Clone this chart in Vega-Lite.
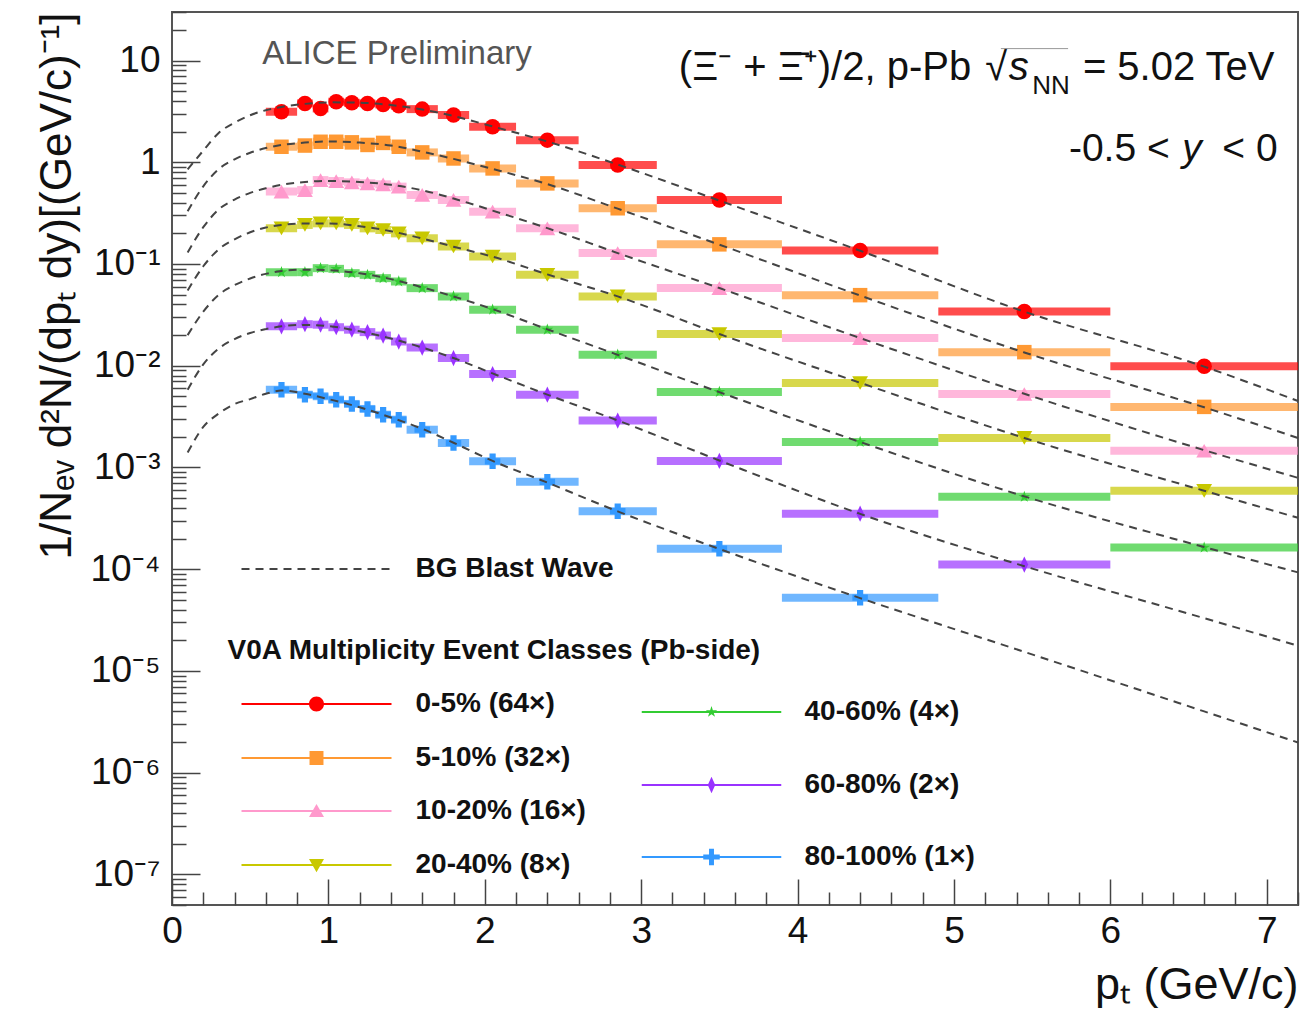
{
  "$schema": "https://vega.github.io/schema/vega-lite/v6.json",
  "width": 1126,
  "height": 893,
  "autosize": {"type": "none"},
  "padding": {"left": 172, "top": 12, "right": 14, "bottom": 112},
  "background": "white",
  "config": {
    "view": {"stroke": "#555", "strokeWidth": 2},
    "font": "Liberation Sans",
    "axis": {"labelFont": "Liberation Sans", "titleFont": "Liberation Sans", "labelColor": "#111", "titleColor": "#111", "domain": false, "grid": false, "tickColor": "#444", "tickWidth": 1.5, "labelOverlap": false, "labelFlush": false, "labelBound": false, "titleFontWeight": "normal"},
    "legend": {"orient": "none", "padding": 0, "labelFontSize": 28, "labelFontWeight": "bold", "labelColor": "#111", "labelLimit": 400, "symbolSize": 225, "symbolOffset": 75, "symbolStrokeWidth": 0, "titleFontSize": 28, "titleFontWeight": "bold", "titleColor": "#111", "titleLimit": 900}
  },
  "datasets": {
    "pts": [
      {"cls":"0-5% (64×)","pt":0.7,"lo":0.6,"hi":0.8,"v":3.14},
      {"cls":"0-5% (64×)","pt":0.85,"lo":0.8,"hi":0.9,"v":3.79},
      {"cls":"0-5% (64×)","pt":0.95,"lo":0.9,"hi":1.0,"v":3.38},
      {"cls":"0-5% (64×)","pt":1.05,"lo":1.0,"hi":1.1,"v":3.94},
      {"cls":"0-5% (64×)","pt":1.15,"lo":1.1,"hi":1.2,"v":3.85},
      {"cls":"0-5% (64×)","pt":1.25,"lo":1.2,"hi":1.3,"v":3.79},
      {"cls":"0-5% (64×)","pt":1.35,"lo":1.3,"hi":1.4,"v":3.7},
      {"cls":"0-5% (64×)","pt":1.45,"lo":1.4,"hi":1.5,"v":3.6},
      {"cls":"0-5% (64×)","pt":1.6,"lo":1.5,"hi":1.7,"v":3.33},
      {"cls":"0-5% (64×)","pt":1.8,"lo":1.7,"hi":1.9,"v":2.91},
      {"cls":"0-5% (64×)","pt":2.05,"lo":1.9,"hi":2.2,"v":2.23},
      {"cls":"0-5% (64×)","pt":2.4,"lo":2.2,"hi":2.6,"v":1.65},
      {"cls":"0-5% (64×)","pt":2.85,"lo":2.6,"hi":3.1,"v":0.94},
      {"cls":"0-5% (64×)","pt":3.5,"lo":3.1,"hi":3.9,"v":0.426},
      {"cls":"0-5% (64×)","pt":4.4,"lo":3.9,"hi":4.9,"v":0.1355},
      {"cls":"0-5% (64×)","pt":5.45,"lo":4.9,"hi":6.0,"v":0.0342},
      {"cls":"0-5% (64×)","pt":6.6,"lo":6.0,"hi":7.2,"v":0.00986},
      {"cls":"5-10% (32×)","pt":0.7,"lo":0.6,"hi":0.8,"v":1.42},
      {"cls":"5-10% (32×)","pt":0.85,"lo":0.8,"hi":0.9,"v":1.46},
      {"cls":"5-10% (32×)","pt":0.95,"lo":0.9,"hi":1.0,"v":1.59},
      {"cls":"5-10% (32×)","pt":1.05,"lo":1.0,"hi":1.1,"v":1.59},
      {"cls":"5-10% (32×)","pt":1.15,"lo":1.1,"hi":1.2,"v":1.57},
      {"cls":"5-10% (32×)","pt":1.25,"lo":1.2,"hi":1.3,"v":1.48},
      {"cls":"5-10% (32×)","pt":1.35,"lo":1.3,"hi":1.4,"v":1.55},
      {"cls":"5-10% (32×)","pt":1.45,"lo":1.4,"hi":1.5,"v":1.42},
      {"cls":"5-10% (32×)","pt":1.6,"lo":1.5,"hi":1.7,"v":1.25},
      {"cls":"5-10% (32×)","pt":1.8,"lo":1.7,"hi":1.9,"v":1.09},
      {"cls":"5-10% (32×)","pt":2.05,"lo":1.9,"hi":2.2,"v":0.87},
      {"cls":"5-10% (32×)","pt":2.4,"lo":2.2,"hi":2.6,"v":0.62},
      {"cls":"5-10% (32×)","pt":2.85,"lo":2.6,"hi":3.1,"v":0.353},
      {"cls":"5-10% (32×)","pt":3.5,"lo":3.1,"hi":3.9,"v":0.156},
      {"cls":"5-10% (32×)","pt":4.4,"lo":3.9,"hi":4.9,"v":0.0494},
      {"cls":"5-10% (32×)","pt":5.45,"lo":4.9,"hi":6.0,"v":0.0136},
      {"cls":"5-10% (32×)","pt":6.6,"lo":6.0,"hi":7.2,"v":0.00394},
      {"cls":"10-20% (16×)","pt":0.7,"lo":0.6,"hi":0.8,"v":0.515},
      {"cls":"10-20% (16×)","pt":0.85,"lo":0.8,"hi":0.9,"v":0.533},
      {"cls":"10-20% (16×)","pt":0.95,"lo":0.9,"hi":1.0,"v":0.668},
      {"cls":"10-20% (16×)","pt":1.05,"lo":1.0,"hi":1.1,"v":0.654},
      {"cls":"10-20% (16×)","pt":1.15,"lo":1.1,"hi":1.2,"v":0.635},
      {"cls":"10-20% (16×)","pt":1.25,"lo":1.2,"hi":1.3,"v":0.621},
      {"cls":"10-20% (16×)","pt":1.35,"lo":1.3,"hi":1.4,"v":0.607},
      {"cls":"10-20% (16×)","pt":1.45,"lo":1.4,"hi":1.5,"v":0.576},
      {"cls":"10-20% (16×)","pt":1.6,"lo":1.5,"hi":1.7,"v":0.477},
      {"cls":"10-20% (16×)","pt":1.8,"lo":1.7,"hi":1.9,"v":0.426},
      {"cls":"10-20% (16×)","pt":2.05,"lo":1.9,"hi":2.2,"v":0.327},
      {"cls":"10-20% (16×)","pt":2.4,"lo":2.2,"hi":2.6,"v":0.224},
      {"cls":"10-20% (16×)","pt":2.85,"lo":2.6,"hi":3.1,"v":0.128},
      {"cls":"10-20% (16×)","pt":3.5,"lo":3.1,"hi":3.9,"v":0.058},
      {"cls":"10-20% (16×)","pt":4.4,"lo":3.9,"hi":4.9,"v":0.0187},
      {"cls":"10-20% (16×)","pt":5.45,"lo":4.9,"hi":6.0,"v":0.00527},
      {"cls":"10-20% (16×)","pt":6.6,"lo":6.0,"hi":7.2,"v":0.00146},
      {"cls":"20-40% (8×)","pt":0.7,"lo":0.6,"hi":0.8,"v":0.224},
      {"cls":"20-40% (8×)","pt":0.85,"lo":0.8,"hi":0.9,"v":0.242},
      {"cls":"20-40% (8×)","pt":0.95,"lo":0.9,"hi":1.0,"v":0.251},
      {"cls":"20-40% (8×)","pt":1.05,"lo":1.0,"hi":1.1,"v":0.251},
      {"cls":"20-40% (8×)","pt":1.15,"lo":1.1,"hi":1.2,"v":0.242},
      {"cls":"20-40% (8×)","pt":1.25,"lo":1.2,"hi":1.3,"v":0.224},
      {"cls":"20-40% (8×)","pt":1.35,"lo":1.3,"hi":1.4,"v":0.216},
      {"cls":"20-40% (8×)","pt":1.45,"lo":1.4,"hi":1.5,"v":0.2},
      {"cls":"20-40% (8×)","pt":1.6,"lo":1.5,"hi":1.7,"v":0.179},
      {"cls":"20-40% (8×)","pt":1.8,"lo":1.7,"hi":1.9,"v":0.1485},
      {"cls":"20-40% (8×)","pt":2.05,"lo":1.9,"hi":2.2,"v":0.1185},
      {"cls":"20-40% (8×)","pt":2.4,"lo":2.2,"hi":2.6,"v":0.0782},
      {"cls":"20-40% (8×)","pt":2.85,"lo":2.6,"hi":3.1,"v":0.048},
      {"cls":"20-40% (8×)","pt":3.5,"lo":3.1,"hi":3.9,"v":0.0205},
      {"cls":"20-40% (8×)","pt":4.4,"lo":3.9,"hi":4.9,"v":0.00676},
      {"cls":"20-40% (8×)","pt":5.45,"lo":4.9,"hi":6.0,"v":0.00195},
      {"cls":"20-40% (8×)","pt":6.6,"lo":6.0,"hi":7.2,"v":0.000589},
      {"cls":"40-60% (4×)","pt":0.7,"lo":0.6,"hi":0.8,"v":0.0831},
      {"cls":"40-60% (4×)","pt":0.85,"lo":0.8,"hi":0.9,"v":0.0831},
      {"cls":"40-60% (4×)","pt":0.95,"lo":0.9,"hi":1.0,"v":0.091},
      {"cls":"40-60% (4×)","pt":1.05,"lo":1.0,"hi":1.1,"v":0.0896},
      {"cls":"40-60% (4×)","pt":1.15,"lo":1.1,"hi":1.2,"v":0.0813},
      {"cls":"40-60% (4×)","pt":1.25,"lo":1.2,"hi":1.3,"v":0.0782},
      {"cls":"40-60% (4×)","pt":1.35,"lo":1.3,"hi":1.4,"v":0.0726},
      {"cls":"40-60% (4×)","pt":1.45,"lo":1.4,"hi":1.5,"v":0.0673},
      {"cls":"40-60% (4×)","pt":1.6,"lo":1.5,"hi":1.7,"v":0.0579},
      {"cls":"40-60% (4×)","pt":1.8,"lo":1.7,"hi":1.9,"v":0.048},
      {"cls":"40-60% (4×)","pt":2.05,"lo":1.9,"hi":2.2,"v":0.0355},
      {"cls":"40-60% (4×)","pt":2.4,"lo":2.2,"hi":2.6,"v":0.0226},
      {"cls":"40-60% (4×)","pt":2.85,"lo":2.6,"hi":3.1,"v":0.0128},
      {"cls":"40-60% (4×)","pt":3.5,"lo":3.1,"hi":3.9,"v":0.00552},
      {"cls":"40-60% (4×)","pt":4.4,"lo":3.9,"hi":4.9,"v":0.00178},
      {"cls":"40-60% (4×)","pt":5.45,"lo":4.9,"hi":6.0,"v":0.000514},
      {"cls":"40-60% (4×)","pt":6.6,"lo":6.0,"hi":7.2,"v":0.000163},
      {"cls":"60-80% (2×)","pt":0.7,"lo":0.6,"hi":0.8,"v":0.0244},
      {"cls":"60-80% (2×)","pt":0.85,"lo":0.8,"hi":0.9,"v":0.0256},
      {"cls":"60-80% (2×)","pt":0.95,"lo":0.9,"hi":1.0,"v":0.0253},
      {"cls":"60-80% (2×)","pt":1.05,"lo":1.0,"hi":1.1,"v":0.0239},
      {"cls":"60-80% (2×)","pt":1.15,"lo":1.1,"hi":1.2,"v":0.0226},
      {"cls":"60-80% (2×)","pt":1.25,"lo":1.2,"hi":1.3,"v":0.0214},
      {"cls":"60-80% (2×)","pt":1.35,"lo":1.3,"hi":1.4,"v":0.0198},
      {"cls":"60-80% (2×)","pt":1.45,"lo":1.4,"hi":1.5,"v":0.0173},
      {"cls":"60-80% (2×)","pt":1.6,"lo":1.5,"hi":1.7,"v":0.0151},
      {"cls":"60-80% (2×)","pt":1.8,"lo":1.7,"hi":1.9,"v":0.0119},
      {"cls":"60-80% (2×)","pt":2.05,"lo":1.9,"hi":2.2,"v":0.00829},
      {"cls":"60-80% (2×)","pt":2.4,"lo":2.2,"hi":2.6,"v":0.00519},
      {"cls":"60-80% (2×)","pt":2.85,"lo":2.6,"hi":3.1,"v":0.00289},
      {"cls":"60-80% (2×)","pt":3.5,"lo":3.1,"hi":3.9,"v":0.00116},
      {"cls":"60-80% (2×)","pt":4.4,"lo":3.9,"hi":4.9,"v":0.000351},
      {"cls":"60-80% (2×)","pt":5.45,"lo":4.9,"hi":6.0,"v":0.000111},
      {"cls":"80-100% (1×)","pt":0.7,"lo":0.6,"hi":0.8,"v":0.00582},
      {"cls":"80-100% (1×)","pt":0.85,"lo":0.8,"hi":0.9,"v":0.00519},
      {"cls":"80-100% (1×)","pt":0.95,"lo":0.9,"hi":1.0,"v":0.00501},
      {"cls":"80-100% (1×)","pt":1.05,"lo":1.0,"hi":1.1,"v":0.00464},
      {"cls":"80-100% (1×)","pt":1.15,"lo":1.1,"hi":1.2,"v":0.00421},
      {"cls":"80-100% (1×)","pt":1.25,"lo":1.2,"hi":1.3,"v":0.00376},
      {"cls":"80-100% (1×)","pt":1.35,"lo":1.3,"hi":1.4,"v":0.0033},
      {"cls":"80-100% (1×)","pt":1.45,"lo":1.4,"hi":1.5,"v":0.00295},
      {"cls":"80-100% (1×)","pt":1.6,"lo":1.5,"hi":1.7,"v":0.00235},
      {"cls":"80-100% (1×)","pt":1.8,"lo":1.7,"hi":1.9,"v":0.00174},
      {"cls":"80-100% (1×)","pt":2.05,"lo":1.9,"hi":2.2,"v":0.00115},
      {"cls":"80-100% (1×)","pt":2.4,"lo":2.2,"hi":2.6,"v":0.000722},
      {"cls":"80-100% (1×)","pt":2.85,"lo":2.6,"hi":3.1,"v":0.000372},
      {"cls":"80-100% (1×)","pt":3.5,"lo":3.1,"hi":3.9,"v":0.000159},
      {"cls":"80-100% (1×)","pt":4.4,"lo":3.9,"hi":4.9,"v":0.0000525}
    ],
    "curves": [
      {"id":1,"model":"BG Blast Wave","pt":0.1,"v":0.85},{"id":1,"model":"BG Blast Wave","pt":0.2,"v":1.3},{"id":1,"model":"BG Blast Wave","pt":0.3,"v":1.95},{"id":1,"model":"BG Blast Wave","pt":0.4,"v":2.45},{"id":1,"model":"BG Blast Wave","pt":0.5,"v":2.9},{"id":1,"model":"BG Blast Wave","pt":0.6,"v":3.25},{"id":1,"model":"BG Blast Wave","pt":0.7,"v":3.5},{"id":1,"model":"BG Blast Wave","pt":0.85,"v":3.75},{"id":1,"model":"BG Blast Wave","pt":1.0,"v":3.88},{"id":1,"model":"BG Blast Wave","pt":1.2,"v":3.85},{"id":1,"model":"BG Blast Wave","pt":1.4,"v":3.65},{"id":1,"model":"BG Blast Wave","pt":1.6,"v":3.3},{"id":1,"model":"BG Blast Wave","pt":1.8,"v":2.85},{"id":1,"model":"BG Blast Wave","pt":2.05,"v":2.25},{"id":1,"model":"BG Blast Wave","pt":2.4,"v":1.6},{"id":1,"model":"BG Blast Wave","pt":2.85,"v":0.95},{"id":1,"model":"BG Blast Wave","pt":3.5,"v":0.42},{"id":1,"model":"BG Blast Wave","pt":4.4,"v":0.135},{"id":1,"model":"BG Blast Wave","pt":5.45,"v":0.034},{"id":1,"model":"BG Blast Wave","pt":6.6,"v":0.0098},{"id":1,"model":"BG Blast Wave","pt":7.2,"v":0.0045},
      {"id":2,"model":"BG Blast Wave","pt":0.1,"v":0.33},{"id":2,"model":"BG Blast Wave","pt":0.2,"v":0.58},{"id":2,"model":"BG Blast Wave","pt":0.3,"v":0.86},{"id":2,"model":"BG Blast Wave","pt":0.4,"v":1.07},{"id":2,"model":"BG Blast Wave","pt":0.5,"v":1.24},{"id":2,"model":"BG Blast Wave","pt":0.6,"v":1.38},{"id":2,"model":"BG Blast Wave","pt":0.7,"v":1.48},{"id":2,"model":"BG Blast Wave","pt":0.85,"v":1.56},{"id":2,"model":"BG Blast Wave","pt":1.0,"v":1.6},{"id":2,"model":"BG Blast Wave","pt":1.2,"v":1.56},{"id":2,"model":"BG Blast Wave","pt":1.4,"v":1.46},{"id":2,"model":"BG Blast Wave","pt":1.6,"v":1.27},{"id":2,"model":"BG Blast Wave","pt":1.8,"v":1.08},{"id":2,"model":"BG Blast Wave","pt":2.05,"v":0.86},{"id":2,"model":"BG Blast Wave","pt":2.4,"v":0.61},{"id":2,"model":"BG Blast Wave","pt":2.85,"v":0.35},{"id":2,"model":"BG Blast Wave","pt":3.5,"v":0.155},{"id":2,"model":"BG Blast Wave","pt":4.4,"v":0.049},{"id":2,"model":"BG Blast Wave","pt":5.45,"v":0.0135},{"id":2,"model":"BG Blast Wave","pt":6.6,"v":0.0039},{"id":2,"model":"BG Blast Wave","pt":7.2,"v":0.00195},
      {"id":3,"model":"BG Blast Wave","pt":0.1,"v":0.13},{"id":3,"model":"BG Blast Wave","pt":0.2,"v":0.23},{"id":3,"model":"BG Blast Wave","pt":0.3,"v":0.345},{"id":3,"model":"BG Blast Wave","pt":0.4,"v":0.43},{"id":3,"model":"BG Blast Wave","pt":0.5,"v":0.5},{"id":3,"model":"BG Blast Wave","pt":0.6,"v":0.555},{"id":3,"model":"BG Blast Wave","pt":0.7,"v":0.6},{"id":3,"model":"BG Blast Wave","pt":0.85,"v":0.64},{"id":3,"model":"BG Blast Wave","pt":1.0,"v":0.655},{"id":3,"model":"BG Blast Wave","pt":1.2,"v":0.64},{"id":3,"model":"BG Blast Wave","pt":1.4,"v":0.6},{"id":3,"model":"BG Blast Wave","pt":1.6,"v":0.53},{"id":3,"model":"BG Blast Wave","pt":1.8,"v":0.44},{"id":3,"model":"BG Blast Wave","pt":2.05,"v":0.335},{"id":3,"model":"BG Blast Wave","pt":2.4,"v":0.225},{"id":3,"model":"BG Blast Wave","pt":2.85,"v":0.128},{"id":3,"model":"BG Blast Wave","pt":3.5,"v":0.058},{"id":3,"model":"BG Blast Wave","pt":4.4,"v":0.0187},{"id":3,"model":"BG Blast Wave","pt":5.45,"v":0.0053},{"id":3,"model":"BG Blast Wave","pt":6.6,"v":0.00148},{"id":3,"model":"BG Blast Wave","pt":7.2,"v":0.00079},
      {"id":4,"model":"BG Blast Wave","pt":0.1,"v":0.055},{"id":4,"model":"BG Blast Wave","pt":0.2,"v":0.095},{"id":4,"model":"BG Blast Wave","pt":0.3,"v":0.14},{"id":4,"model":"BG Blast Wave","pt":0.4,"v":0.175},{"id":4,"model":"BG Blast Wave","pt":0.5,"v":0.205},{"id":4,"model":"BG Blast Wave","pt":0.6,"v":0.228},{"id":4,"model":"BG Blast Wave","pt":0.7,"v":0.242},{"id":4,"model":"BG Blast Wave","pt":0.85,"v":0.25},{"id":4,"model":"BG Blast Wave","pt":1.0,"v":0.25},{"id":4,"model":"BG Blast Wave","pt":1.2,"v":0.235},{"id":4,"model":"BG Blast Wave","pt":1.4,"v":0.21},{"id":4,"model":"BG Blast Wave","pt":1.6,"v":0.178},{"id":4,"model":"BG Blast Wave","pt":1.8,"v":0.148},{"id":4,"model":"BG Blast Wave","pt":2.05,"v":0.118},{"id":4,"model":"BG Blast Wave","pt":2.4,"v":0.079},{"id":4,"model":"BG Blast Wave","pt":2.85,"v":0.048},{"id":4,"model":"BG Blast Wave","pt":3.5,"v":0.0205},{"id":4,"model":"BG Blast Wave","pt":4.4,"v":0.0068},{"id":4,"model":"BG Blast Wave","pt":5.45,"v":0.00195},{"id":4,"model":"BG Blast Wave","pt":6.6,"v":0.00059},{"id":4,"model":"BG Blast Wave","pt":7.2,"v":0.00032},
      {"id":5,"model":"BG Blast Wave","pt":0.1,"v":0.02},{"id":5,"model":"BG Blast Wave","pt":0.2,"v":0.034},{"id":5,"model":"BG Blast Wave","pt":0.3,"v":0.05},{"id":5,"model":"BG Blast Wave","pt":0.4,"v":0.062},{"id":5,"model":"BG Blast Wave","pt":0.5,"v":0.072},{"id":5,"model":"BG Blast Wave","pt":0.6,"v":0.08},{"id":5,"model":"BG Blast Wave","pt":0.7,"v":0.0855},{"id":5,"model":"BG Blast Wave","pt":0.85,"v":0.088},{"id":5,"model":"BG Blast Wave","pt":1.0,"v":0.087},{"id":5,"model":"BG Blast Wave","pt":1.2,"v":0.081},{"id":5,"model":"BG Blast Wave","pt":1.4,"v":0.071},{"id":5,"model":"BG Blast Wave","pt":1.6,"v":0.059},{"id":5,"model":"BG Blast Wave","pt":1.8,"v":0.048},{"id":5,"model":"BG Blast Wave","pt":2.05,"v":0.036},{"id":5,"model":"BG Blast Wave","pt":2.4,"v":0.0228},{"id":5,"model":"BG Blast Wave","pt":2.85,"v":0.0128},{"id":5,"model":"BG Blast Wave","pt":3.5,"v":0.0055},{"id":5,"model":"BG Blast Wave","pt":4.4,"v":0.00178},{"id":5,"model":"BG Blast Wave","pt":5.45,"v":0.00052},{"id":5,"model":"BG Blast Wave","pt":6.6,"v":0.000165},{"id":5,"model":"BG Blast Wave","pt":7.2,"v":0.000093},
      {"id":6,"model":"BG Blast Wave","pt":0.1,"v":0.0058},{"id":6,"model":"BG Blast Wave","pt":0.2,"v":0.0103},{"id":6,"model":"BG Blast Wave","pt":0.3,"v":0.0148},{"id":6,"model":"BG Blast Wave","pt":0.4,"v":0.0183},{"id":6,"model":"BG Blast Wave","pt":0.5,"v":0.021},{"id":6,"model":"BG Blast Wave","pt":0.6,"v":0.0229},{"id":6,"model":"BG Blast Wave","pt":0.7,"v":0.0244},{"id":6,"model":"BG Blast Wave","pt":0.85,"v":0.0252},{"id":6,"model":"BG Blast Wave","pt":1.0,"v":0.0245},{"id":6,"model":"BG Blast Wave","pt":1.2,"v":0.0218},{"id":6,"model":"BG Blast Wave","pt":1.4,"v":0.0185},{"id":6,"model":"BG Blast Wave","pt":1.6,"v":0.0151},{"id":6,"model":"BG Blast Wave","pt":1.8,"v":0.0119},{"id":6,"model":"BG Blast Wave","pt":2.05,"v":0.0084},{"id":6,"model":"BG Blast Wave","pt":2.4,"v":0.0052},{"id":6,"model":"BG Blast Wave","pt":2.85,"v":0.0029},{"id":6,"model":"BG Blast Wave","pt":3.5,"v":0.00117},{"id":6,"model":"BG Blast Wave","pt":4.4,"v":0.00035},{"id":6,"model":"BG Blast Wave","pt":5.45,"v":0.000107},{"id":6,"model":"BG Blast Wave","pt":6.6,"v":0.000033},{"id":6,"model":"BG Blast Wave","pt":7.2,"v":0.0000177},
      {"id":7,"model":"BG Blast Wave","pt":0.1,"v":0.0014},{"id":7,"model":"BG Blast Wave","pt":0.2,"v":0.0025},{"id":7,"model":"BG Blast Wave","pt":0.3,"v":0.0034},{"id":7,"model":"BG Blast Wave","pt":0.4,"v":0.0042},{"id":7,"model":"BG Blast Wave","pt":0.5,"v":0.0047},{"id":7,"model":"BG Blast Wave","pt":0.6,"v":0.0053},{"id":7,"model":"BG Blast Wave","pt":0.7,"v":0.0057},{"id":7,"model":"BG Blast Wave","pt":0.85,"v":0.0053},{"id":7,"model":"BG Blast Wave","pt":1.0,"v":0.0047},{"id":7,"model":"BG Blast Wave","pt":1.2,"v":0.0039},{"id":7,"model":"BG Blast Wave","pt":1.4,"v":0.0031},{"id":7,"model":"BG Blast Wave","pt":1.6,"v":0.0024},{"id":7,"model":"BG Blast Wave","pt":1.8,"v":0.00175},{"id":7,"model":"BG Blast Wave","pt":2.05,"v":0.00116},{"id":7,"model":"BG Blast Wave","pt":2.4,"v":0.00071},{"id":7,"model":"BG Blast Wave","pt":2.85,"v":0.00037},{"id":7,"model":"BG Blast Wave","pt":3.5,"v":0.000158},{"id":7,"model":"BG Blast Wave","pt":4.4,"v":0.000052},{"id":7,"model":"BG Blast Wave","pt":5.45,"v":0.0000154},{"id":7,"model":"BG Blast Wave","pt":6.6,"v":0.000004},{"id":7,"model":"BG Blast Wave","pt":7.2,"v":0.00000198}
    ]
  },
  "layer": [
    {
      "data": {"name": "pts"},
      "mark": {"type": "rule", "strokeWidth": 8, "opacity": 0.7},
      "encoding": {
        "x": {"field": "lo", "type": "quantitative", "scale": {"domain": [0, 7.2], "nice": false, "zero": false},
          "axis": {"values": [0,0.2,0.4,0.6,0.8,1,1.2,1.4,1.6,1.8,2,2.2,2.4,2.6,2.8,3,3.2,3.4,3.6,3.8,4,4.2,4.4,4.6,4.8,5,5.2,5.4,5.6,5.8,6,6.2,6.4,6.6,6.8,7,7.2],
            "tickCount": 500, "labelOverlap": false,
            "labelExpr": "datum.value % 1 === 0 ? format(datum.value, 'd') : ''",
            "tickSize": {"condition": {"test": "datum.value % 1 === 0", "value": -26}, "value": -13},
            "labelFontSize": 37, "labelPadding": 34,
            "title": "pₜ (GeV/c)", "titleFontSize": 45, "titleAnchor": "end", "titlePadding": 0}},
        "x2": {"field": "hi"},
        "y": {"field": "v", "type": "quantitative", "scale": {"type": "log", "domain": [5e-8, 30], "nice": false},
          "axis": {"values": [5e-8,6e-8,7e-8,8e-8,9e-8,1e-7,2e-7,3e-7,4e-7,5e-7,6e-7,7e-7,8e-7,9e-7,1e-6,2e-6,3e-6,4e-6,5e-6,6e-6,7e-6,8e-6,9e-6,1e-5,2e-5,3e-5,4e-5,5e-5,6e-5,7e-5,8e-5,9e-5,1e-4,2e-4,3e-4,4e-4,5e-4,6e-4,7e-4,8e-4,9e-4,0.001,0.002,0.003,0.004,0.005,0.006,0.007,0.008,0.009,0.01,0.02,0.03,0.04,0.05,0.06,0.07,0.08,0.09,0.1,0.2,0.3,0.4,0.5,0.6,0.7,0.8,0.9,1,2,3,4,5,6,7,8,9,10,20,30],
            "tickCount": 500, "labelOverlap": false,
            "labelExpr": "abs(log(datum.value)/LN10 - round(log(datum.value)/LN10)) < 0.001 ? (datum.value > 5 ? '10' : datum.value > 0.5 ? '1' : '10' + ['','⁻¹','⁻²','⁻³','⁻⁴','⁻⁵','⁻⁶','⁻⁷'][-round(log(datum.value)/LN10)]) : ''",
            "tickSize": {"condition": {"test": "abs(log(datum.value)/LN10 - round(log(datum.value)/LN10)) < 0.001", "value": -28}, "value": -14},
            "labelFontSize": 37, "labelPadding": 40,
            "title": "1/Nₑᵥ d²N/(dpₜ dy)[(GeV/c)⁻¹]", "titleFontSize": 44, "titleAnchor": "end", "titlePadding": 10}},
        "stroke": {"field": "cls", "type": "nominal",
          "scale": {"domain": ["0-5% (64×)","5-10% (32×)","10-20% (16×)","20-40% (8×)","40-60% (4×)","60-80% (2×)","80-100% (1×)"],
                    "range": ["#ff0000","#ff9933","#ff99cc","#c8c800","#33cc33","#9933ff","#3399ff"]},
          "legend": null}
      }
    },
    {
      "data": {"name": "pts"},
      "transform": [{"filter": {"field": "cls", "equal": "0-5% (64×)"}}],
      "mark": {"type": "point", "filled": true, "size": 240, "shape": "circle", "opacity": 1},
      "encoding": {
        "x": {"field": "pt", "type": "quantitative"},
        "y": {"field": "v", "type": "quantitative"},
        "fill": {"field": "cls", "type": "nominal", "scale": {"range": ["#ff0000"]},
          "legend": {"legendX": 55.5, "legendY": 625, "title": "V0A Multiplicity Event Classes (Pb-side)", "titlePadding": 25, "labelOffset": 85,
            "symbolType": "M-10,-0.12H10V0.12H-10Z M1,0A1,1,0,1,1,-1,0A1,1,0,1,1,1,0Z"}}
      }
    },
    {
      "data": {"name": "pts"},
      "transform": [{"filter": {"field": "cls", "equal": "5-10% (32×)"}}],
      "mark": {"type": "point", "filled": true, "size": 210, "shape": "square", "opacity": 1},
      "encoding": {
        "x": {"field": "pt", "type": "quantitative"},
        "y": {"field": "v", "type": "quantitative"},
        "fill": {"field": "cls", "type": "nominal", "scale": {"range": ["#ff9933"]},
          "legend": {"legendX": 55.5, "legendY": 732, "title": null, "labelOffset": 85,
            "symbolType": "M-10,-0.12H10V0.12H-10Z M-0.93,-0.93H0.93V0.93H-0.93Z"}}
      }
    },
    {
      "data": {"name": "pts"},
      "transform": [{"filter": {"field": "cls", "equal": "10-20% (16×)"}}],
      "mark": {"type": "point", "filled": true, "size": 250, "shape": "triangle-up", "opacity": 1},
      "encoding": {
        "x": {"field": "pt", "type": "quantitative"},
        "y": {"field": "v", "type": "quantitative"},
        "fill": {"field": "cls", "type": "nominal", "scale": {"range": ["#ff99cc"]},
          "legend": {"legendX": 55.5, "legendY": 785, "title": null, "labelOffset": 85,
            "symbolType": "M-10,-0.12H10V0.12H-10Z M0,-0.95L1,0.8L-1,0.8Z"}}
      }
    },
    {
      "data": {"name": "pts"},
      "transform": [{"filter": {"field": "cls", "equal": "20-40% (8×)"}}],
      "mark": {"type": "point", "filled": true, "size": 250, "shape": "triangle-down", "opacity": 1},
      "encoding": {
        "x": {"field": "pt", "type": "quantitative"},
        "y": {"field": "v", "type": "quantitative"},
        "fill": {"field": "cls", "type": "nominal", "scale": {"range": ["#c8c800"]},
          "legend": {"legendX": 55.5, "legendY": 839, "title": null, "labelOffset": 85,
            "symbolType": "M-10,-0.12H10V0.12H-10Z M-1,-0.8H1L0,0.95Z"}}
      }
    },
    {
      "data": {"name": "pts"},
      "transform": [{"filter": {"field": "cls", "equal": "40-60% (4×)"}}],
      "mark": {"type": "point", "filled": true, "size": 240, "shape": "M0,-0.8L0.18,-0.247L0.761,-0.247L0.29,0.094L0.47,0.647L0,0.306L-0.47,0.647L-0.29,0.094L-0.761,-0.247L-0.18,-0.247Z", "opacity": 1},
      "encoding": {
        "x": {"field": "pt", "type": "quantitative"},
        "y": {"field": "v", "type": "quantitative"},
        "fill": {"field": "cls", "type": "nominal", "scale": {"range": ["#33cc33"]},
          "legend": {"legendX": 450.5, "legendY": 686, "title": null, "labelOffset": 79,
            "symbolType": "M-9.3,-0.12H9.3V0.12H-9.3Z M0,-0.8L0.18,-0.247L0.761,-0.247L0.29,0.094L0.47,0.647L0,0.306L-0.47,0.647L-0.29,0.094L-0.761,-0.247L-0.18,-0.247Z"}}
      }
    },
    {
      "data": {"name": "pts"},
      "transform": [{"filter": {"field": "cls", "equal": "60-80% (2×)"}}],
      "mark": {"type": "point", "filled": true, "size": 240, "shape": "M0,-1.05L0.5,0L0,1.05L-0.5,0Z", "opacity": 1},
      "encoding": {
        "x": {"field": "pt", "type": "quantitative"},
        "y": {"field": "v", "type": "quantitative"},
        "fill": {"field": "cls", "type": "nominal", "scale": {"range": ["#9933ff"]},
          "legend": {"legendX": 450.5, "legendY": 759, "title": null, "labelOffset": 79,
            "symbolType": "M-9.3,-0.12H9.3V0.12H-9.3Z M0,-1.1L0.5,0L0,1.1L-0.5,0Z"}}
      }
    },
    {
      "data": {"name": "pts"},
      "transform": [{"filter": {"field": "cls", "equal": "80-100% (1×)"}}],
      "mark": {"type": "point", "filled": true, "size": 240, "shape": "cross", "opacity": 1},
      "encoding": {
        "x": {"field": "pt", "type": "quantitative"},
        "y": {"field": "v", "type": "quantitative"},
        "fill": {"field": "cls", "type": "nominal", "scale": {"range": ["#3399ff"]},
          "legend": {"legendX": 450.5, "legendY": 831, "title": null, "labelOffset": 79,
            "symbolType": "M-9.3,-0.12H9.3V0.12H-9.3Z M-0.33,-1.1H0.33V-0.33H1.1V0.33H0.33V1.1H-0.33V0.33H-1.1V-0.33H-0.33Z"}}
      }
    },
    {
      "data": {"name": "curves"},
      "mark": {"type": "line", "stroke": "#444", "strokeWidth": 2, "interpolate": "monotone"},
      "encoding": {
        "x": {"field": "pt", "type": "quantitative"},
        "y": {"field": "v", "type": "quantitative"},
        "detail": {"field": "id", "type": "nominal"},
        "strokeDash": {"field": "model", "type": "nominal", "scale": {"range": [[8, 6]]},
          "legend": {"legendX": 55.5, "legendY": 543, "title": null, "labelOffset": 85,
            "symbolType": "M-10,0H10", "symbolStrokeWidth": 2, "symbolStrokeColor": "#444"}}
      }
    },
    {
      "data": {"values": [{}]},
      "mark": {"type": "text", "text": "ALICE Preliminary", "align": "left", "baseline": "alphabetic", "fontSize": 33, "color": "#555"},
      "encoding": {"x": {"datum": 0.577}, "y": {"datum": 9.34}}
    },
    {
      "data": {"values": [{}]},
      "mark": {"type": "text", "text": "(Ξ⁻ + Ξ̄⁺)/2, p-Pb", "align": "right", "baseline": "alphabetic", "fontSize": 40, "color": "#111"},
      "encoding": {"x": {"datum": 5.11}, "y": {"datum": 6.365}}
    },
    {
      "data": {"values": [{}]},
      "mark": {"type": "text", "text": "√", "align": "left", "baseline": "alphabetic", "fontSize": 40, "color": "#111"},
      "encoding": {"x": {"datum": 5.2}, "y": {"datum": 6.365}}
    },
    {
      "data": {"values": [{}]},
      "mark": {"type": "rule", "stroke": "#999", "strokeWidth": 1},
      "encoding": {"x": {"datum": 5.3}, "x2": {"datum": 5.73}, "y": {"datum": 13.1}}
    },
    {
      "data": {"values": [{}]},
      "mark": {"type": "text", "text": "s", "align": "left", "baseline": "alphabetic", "fontSize": 40, "fontStyle": "italic", "color": "#111"},
      "encoding": {"x": {"datum": 5.35}, "y": {"datum": 6.365}}
    },
    {
      "data": {"values": [{}]},
      "mark": {"type": "text", "text": "NN", "align": "left", "baseline": "alphabetic", "fontSize": 26, "color": "#111"},
      "encoding": {"x": {"datum": 5.5}, "y": {"datum": 4.74}}
    },
    {
      "data": {"values": [{}]},
      "mark": {"type": "text", "text": "= 5.02 TeV", "align": "right", "baseline": "alphabetic", "fontSize": 40, "color": "#111"},
      "encoding": {"x": {"datum": 7.05}, "y": {"datum": 6.365}}
    },
    {
      "data": {"values": [{}]},
      "mark": {"type": "text", "text": "-0.5 <", "align": "right", "baseline": "alphabetic", "fontSize": 39, "color": "#111"},
      "encoding": {"x": {"datum": 6.38}, "y": {"datum": 1.02}}
    },
    {
      "data": {"values": [{}]},
      "mark": {"type": "text", "text": "y", "align": "left", "baseline": "alphabetic", "fontSize": 39, "fontStyle": "italic", "color": "#111"},
      "encoding": {"x": {"datum": 6.46}, "y": {"datum": 1.02}}
    },
    {
      "data": {"values": [{}]},
      "mark": {"type": "text", "text": "< 0", "align": "right", "baseline": "alphabetic", "fontSize": 39, "color": "#111"},
      "encoding": {"x": {"datum": 7.07}, "y": {"datum": 1.02}}
    }
  ],
  "resolve": {"scale": {"fill": "independent"}}
}
